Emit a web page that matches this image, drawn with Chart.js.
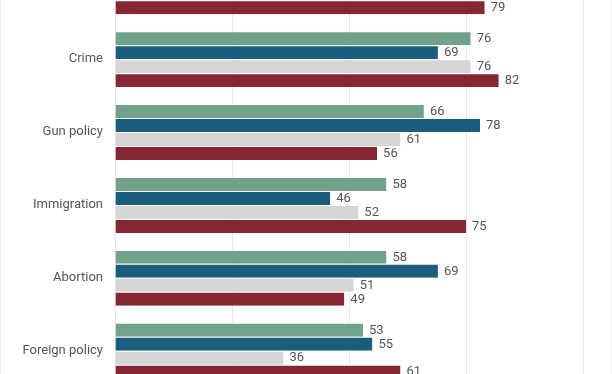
<!DOCTYPE html>
<html>
<head>
<meta charset="utf-8">
<script src="https://cdn.jsdelivr.net/npm/chart.js@4.4.1/dist/chart.umd.min.js"></script>
<style>
  html, body { margin: 0; padding: 0; background: #fff; }
  #frame { position: relative; width: 610px; height: 374px; overflow: hidden;
           border-left: 1px solid #ececec; border-right: 1px solid #ececec; background:#fff; }
  #box { position: absolute; left: -1px; top: -70px; width: 612px; height: 477px; }
</style>
</head>
<body>
<div id="frame"><div id="box"><canvas id="c"></canvas></div></div>
<script>
// Categories (the first one is cut off above the visible area)
const categories = ["", "Crime", "Gun policy", "Immigration", "Abortion", "Foreign policy"];
// Series values (null where the bar lies outside the visible crop)
const seriesGreen = [null, 76, 66, 58, 58, 53];
const seriesBlue  = [null, 69, 78, 46, 69, 55];
const seriesGray  = [null, 76, 61, 52, 51, 36];
const seriesRed   = [79,   82, 56, 75, 49, 61];
const xTicks = [0, 25, 50, 75, 100];

const colors = ["#71a38a", "#1a5d7c", "#d5d5d5", "#862633"];
const series = [seriesGreen, seriesBlue, seriesGray, seriesRed];

const valueLabels = {
  id: 'valueLabels',
  afterDatasetsDraw(chart) {
    const ctx = chart.ctx;
    ctx.save();
    ctx.font = '13px Roboto';
    ctx.fillStyle = '#555555';
    ctx.textAlign = 'left';
    ctx.textBaseline = 'middle';
    chart.data.datasets.forEach((ds, i) => {
      const meta = chart.getDatasetMeta(i);
      meta.data.forEach((el, j) => {
        const v = ds.data[j];
        if (v === null || v === undefined) return;
        ctx.fillText(String(v), el.x + 6, el.y + 0.5);
      });
    });
    ctx.restore();
  }
};

new Chart(document.getElementById('c'), {
  type: 'bar',
  data: {
    labels: categories,
    datasets: series.map((d, i) => ({
      data: d,
      backgroundColor: colors[i],
      borderColor: 'rgba(255,255,255,0.5)',
      borderWidth: { top: 1, bottom: 0, left: 0, right: 0 },
      borderSkipped: false,
      categoryPercentage: 56 / 73,
      barPercentage: 1
    }))
  },
  options: {
    indexAxis: 'y',
    responsive: true,
    maintainAspectRatio: false,
    animation: false,
    layout: { padding: { left: 0, right: 29, top: 0, bottom: 0 } },
    plugins: { legend: { display: false }, tooltip: { enabled: false } },
    scales: {
      x: {
        min: 0, max: 100,
        afterBuildTicks(scale) { scale.ticks = xTicks.map(v => ({ value: v })); },
        ticks: { display: false },
        grid: { color: '#e6e6e6', drawTicks: false, lineWidth: 1 },
        border: { display: false }
      },
      y: {
        afterFit(scale) { scale.width = 115; },
        ticks: { font: { family: 'Roboto', size: 13 }, color: '#555555', padding: 12 },
        grid: { display: false, drawTicks: false },
        border: { display: true, color: '#e6e6e6' }
      }
    }
  },
  plugins: [valueLabels]
});
</script>
</body>
</html>
